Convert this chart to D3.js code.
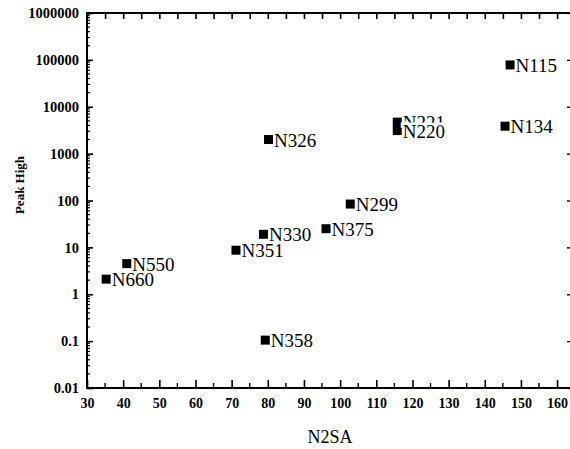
<!DOCTYPE html>
<html>
<head>
<meta charset="utf-8">
<script src="https://cdn.jsdelivr.net/npm/d3@7"></script>
<style>
  body { margin: 0; background: #fff; }
  svg { display: block; }
  text { font-family: "Liberation Serif", "DejaVu Serif", serif; fill: #000; }
</style>
</head>
<body>
<div id="chart"></div>
<script>
// 数据
var names = ['N660', 'N550', 'N351', 'N330', 'N375', 'N299', 'N326', 'N358', 'N221', 'N220', 'N134', 'N115']
var n2sa = [35.3, 41, 71.2, 78.8, 96.1, 102.8, 80.2, 79.3, 115.8, 115.8, 145.6, 147]
var peakHigh = [2.1, 4.5, 8.7, 19, 25, 84, 2000, 0.105, 4700, 3100, 3850, 78000]
var xTicks = [30, 40, 50, 60, 70, 80, 90, 100, 110, 120, 130, 140, 150, 160]
var yTicks = [0.01, 0.1, 1, 10, 100, 1000, 10000, 100000, 1000000]

var width = 570
var height = 449
var padding = {top: 13, left: 87, right: -3, bottom: 61}

var svg = d3.select('#chart').append('svg')
  .attr('width', width)
  .attr('height', height)

var x = d3.scaleLinear().domain([30, 164.4]).range([padding.left, width - padding.right])
var y = d3.scaleLog().domain([0.01, 1000000]).range([height - padding.bottom, padding.top])

var x0 = x.range()[0], x1 = x.range()[1]
var y0 = y.range()[0], y1 = y.range()[1]

// 刻度（次刻度）
var minorX = d3.range(35, 165, 10)
var minorY = []
yTicks.slice(0, -1).forEach(function (d) {
  for (var k = 2; k < 10; k++) minorY.push(d * k)
})

// 底部坐标轴
var bottomAxis = svg.append('g').attr('class', 'xAxis')
  .attr('transform', 'translate(0,' + y0 + ')')
  .call(d3.axisBottom(x).tickValues(xTicks).tickSize(-8).tickPadding(10).tickFormat(d3.format('d')))
bottomAxis.select('.domain').remove()
bottomAxis.selectAll('.tick line').attr('stroke-width', 1.6)
bottomAxis.selectAll('.tick text')
  .attr('font-size', '14px').attr('font-weight', 'bold')
  .attr('font-family', '"Liberation Serif", serif')
bottomAxis.selectAll('line.minor').data(minorX).enter().append('line')
  .attr('class', 'minor')
  .attr('x1', function (d) { return x(d) }).attr('x2', function (d) { return x(d) })
  .attr('y1', 0).attr('y2', -5)
  .attr('stroke', '#000').attr('stroke-width', 1.4)

// 顶部坐标轴
var topAxis = svg.append('g').attr('class', 'xTop')
  .attr('transform', 'translate(0,' + y1 + ')')
  .call(d3.axisTop(x).tickValues(xTicks.concat(minorX)).tickSize(-6).tickFormat(''))
topAxis.select('.domain').remove()
topAxis.selectAll('.tick line').attr('stroke-width', 1.6)

// 左侧坐标轴
var leftAxis = svg.append('g').attr('class', 'yAxis')
  .attr('transform', 'translate(' + x0 + ',0)')
  .call(d3.axisLeft(y).tickValues(yTicks).tickSize(-6).tickPadding(8).tickFormat(function (d) { return String(d) }))
leftAxis.select('.domain').remove()
leftAxis.selectAll('.tick line').attr('stroke-width', 1.6)
leftAxis.selectAll('.tick text')
  .attr('font-size', '14.5px').attr('font-weight', 'bold')
  .attr('font-family', '"Liberation Serif", serif')
leftAxis.selectAll('line.minor').data(minorY).enter().append('line')
  .attr('class', 'minor')
  .attr('x1', 0).attr('x2', 3)
  .attr('y1', function (d) { return y(d) }).attr('y2', function (d) { return y(d) })
  .attr('stroke', '#000').attr('stroke-width', 1.2)

// 右侧坐标轴
var rightAxis = svg.append('g').attr('class', 'yRight')
  .attr('transform', 'translate(' + x1 + ',0)')
  .call(d3.axisRight(y).tickValues(yTicks).tickSize(-6).tickFormat(''))
rightAxis.select('.domain').remove()
rightAxis.selectAll('.tick line').attr('stroke-width', 1.4)

// 边框
svg.append('path')
  .attr('d', 'M' + x0 + ',' + y1 + 'H' + x1 + 'V' + y0 + 'H' + x0 + 'Z')
  .attr('fill', 'none')
  .attr('stroke', '#000')
  .attr('stroke-width', 2)

// 散点
var points = names.map(function (n, i) { return {name: n, x: n2sa[i], y: peakHigh[i]} })
var g = svg.append('g').attr('class', 'points')
var sz = 9
points.forEach(function (d) {
  g.append('rect')
    .attr('x', x(d.x) - sz / 2)
    .attr('y', y(d.y) - sz / 2)
    .attr('width', sz)
    .attr('height', sz)
    .attr('fill', '#000')
  var t = g.append('text')
    .attr('x', x(d.x) + sz / 2 + 1)
    .attr('y', y(d.y) + 7)
    .attr('font-size', '19px')
    .text(d.name)
  if (d.name === 'N220') {
    // 遮住下面的N221
    t.attr('stroke', '#fff').attr('stroke-width', 5).attr('paint-order', 'stroke')
  }
})

// 坐标轴标题
svg.append('text')
  .attr('x', (x0 + x1) / 2)
  .attr('y', 443)
  .attr('text-anchor', 'middle')
  .attr('font-size', '18px')
  .text('N2SA')

svg.append('text')
  .attr('transform', 'translate(24,185) rotate(-90)')
  .attr('text-anchor', 'middle')
  .attr('font-size', '13px')
  .attr('font-weight', 'bold')
  .text('Peak High')
</script>
</body>
</html>
